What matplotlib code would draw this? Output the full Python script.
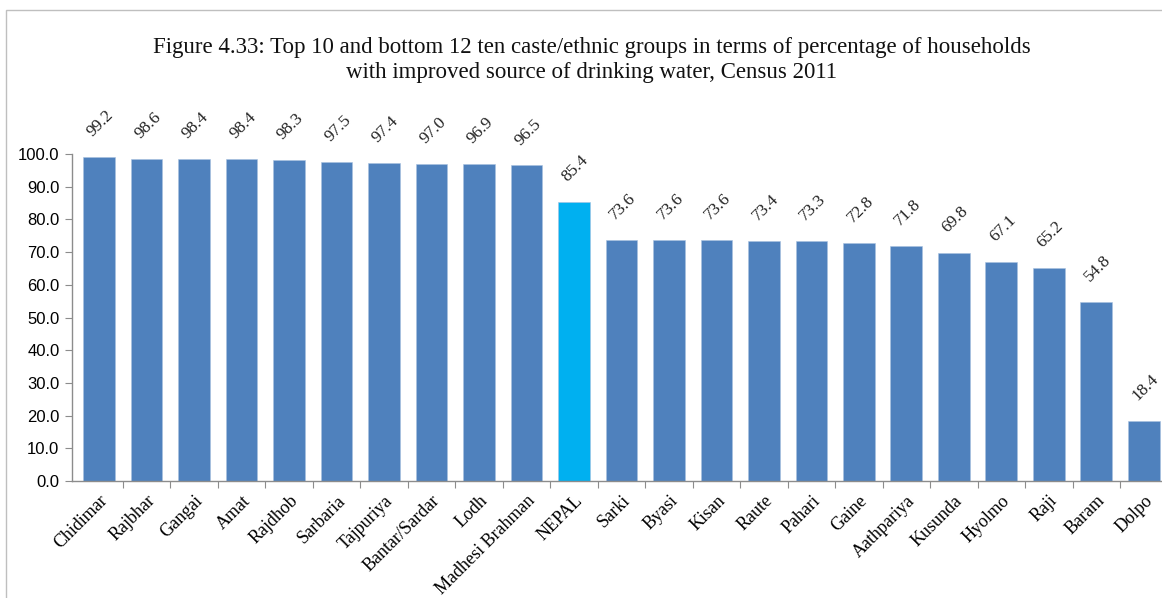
import matplotlib
matplotlib.use("Agg")
import matplotlib.pyplot as plt
from matplotlib.patches import Rectangle

groups = ["Chidimar", "Rajbhar", "Gangai", "Amat", "Rajdhob", "Sarbaria", "Tajpuriya",
          "Bantar/Sardar", "Lodh", "Madhesi Brahman", "NEPAL", "Sarki", "Byasi", "Kisan",
          "Raute", "Pahari", "Gaine", "Aathpariya", "Kusunda", "Hyolmo", "Raji", "Baram", "Dolpo"]
values = [99.2, 98.6, 98.4, 98.4, 98.3, 97.5, 97.4, 97.0, 96.9, 96.5, 85.4, 73.6, 73.6, 73.6,
          73.4, 73.3, 72.8, 71.8, 69.8, 67.1, 65.2, 54.8, 18.4]
highlight = "NEPAL"
yticks = [0, 10, 20, 30, 40, 50, 60, 70, 80, 90, 100]
title = ("Figure 4.33: Top 10 and bottom 12 ten caste/ethnic groups in terms of percentage of households\n"
         "with improved source of drinking water, Census 2011")

W, H = 1162, 598
fig = plt.figure(figsize=(W / 100, H / 100), dpi=100)
fig.patch.set_facecolor("white")

# outer frame (cropped at right/bottom)
fig.patches.append(Rectangle((6 / W, -0.1), 1.2, 1 - 10 / H + 0.1, transform=fig.transFigure,
                             fill=False, edgecolor="#BFBFBF", linewidth=1.0))

left, right = 72, 1167.6
bottom, top = 481, 154
ax = fig.add_axes([left / W, 1 - bottom / H, (right - left) / W, (bottom - top) / H])

x = list(range(len(groups)))
colors = ["#00B0F0" if g == highlight else "#4F81BD" for g in groups]
ax.bar(x, values, width=0.67, color=colors, edgecolor="#A9C1E0", linewidth=0.4)

ax.set_xlim(-0.57, 22.5)
ax.set_ylim(0, 100)

for xi, v in zip(x, values):
    ax.annotate(f"{v:.1f}", xy=(xi, v), xytext=(1, 24), textcoords="offset points",
                rotation=45, ha="center", va="center", fontsize=12.5,
                family="Liberation Serif", color="#222222", annotation_clip=False)

ax.set_yticks(yticks)
ax.set_yticklabels([f"{t:.1f}" for t in yticks], family="Liberation Sans", fontsize=12)
ax.set_xticks([i + 0.5 for i in range(len(groups) - 1)])
ax.set_xticklabels([])
ax.set_xticks(x, minor=True)
ax.set_xticklabels(groups, minor=True, rotation=45, ha="right", va="top",
                   rotation_mode="anchor", family="Liberation Serif", fontsize=13)
ax.tick_params(axis="x", which="minor", length=0, pad=8)
ax.tick_params(axis="x", which="major", length=5, color="#8C8C8C", direction="out")
ax.tick_params(axis="y", length=5, color="#8C8C8C", direction="out", pad=4)

for s in ["top", "right"]:
    ax.spines[s].set_visible(False)
for s in ["left", "bottom"]:
    ax.spines[s].set_color("#8C8C8C")
    ax.spines[s].set_linewidth(1.0)

fig.text(592 / W, 1 - 60 / H, title, ha="center", va="center", fontsize=16.5,
         family="Liberation Serif", linespacing=1.25, color="#111111")

fig.savefig("out.png", dpi=100)
